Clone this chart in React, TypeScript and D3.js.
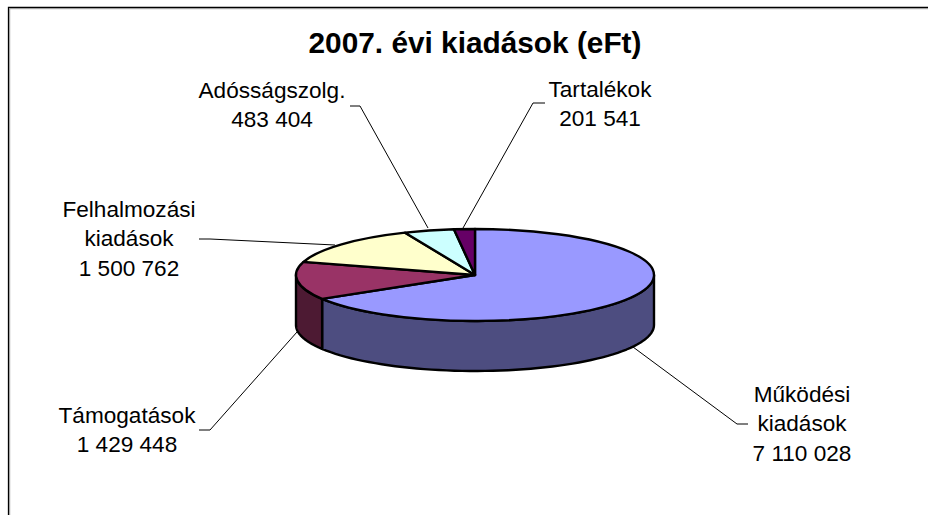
import React from "react";
import * as d3 from "d3";

const title = "2007. évi kiadások (eFt)";
const categories = [["Működési", "kiadások"], ["Támogatások"], ["Felhalmozási", "kiadások"], ["Adósságszolg."], ["Tartalékok"]];
const values = [7110028, 1429448, 1500762, 483404, 201541];
const topColors = ["#9999ff", "#993366", "#ffffcc", "#ccffff", "#660066"];
const sideColors = ["#4d4d80", "#4d1a33", "#80806a", "#6a8080", "#330033"];

// label centre + baseline of first line, and the leader polyline for each slice
const labelPos = [
  { x: 802, y: 402 },
  { x: 127, y: 423 },
  { x: 129, y: 217 },
  { x: 272, y: 98 },
  { x: 600, y: 97 },
];
const leaders: [number, number][][] = [
  [[748, 424], [737, 424], [633, 347]],
  [[199, 430], [210, 430], [297, 332]],
  [[199, 239], [210, 239], [335, 245]],
  [[350, 106], [360, 106], [428, 228]],
  [[545, 103], [533, 103], [463, 228]],
];

const width = 928;
const height = 515;
const cx = 475;
const cy = 275;
const rx = 179;
const ry = 46;
const depth = 50;
const fmt = d3.formatLocale({ decimal: ",", thousands: " ", grouping: [3], currency: ["", ""] }).format(",d");

export default function App() {
  const slices = d3.pie<number>().sort(null)(values);
  const arc = d3.arc<d3.PieArcDatum<number>>().innerRadius(0).outerRadius(100);
  const line = d3.line();

  // outer wall of a slice, only the part that faces the viewer
  const wall = (a0: number, a1: number) => {
    const s = Math.max(a0, Math.PI / 2);
    const e = Math.min(a1, (3 * Math.PI) / 2);
    if (e <= s) return null;
    const px = (t: number) => cx + rx * Math.sin(t);
    const py = (t: number) => cy - ry * Math.cos(t);
    const p = d3.path();
    p.moveTo(px(s), py(s));
    p.lineTo(px(s), py(s) + depth);
    const n = 60;
    for (let i = 1; i <= n; i++) {
      const t = s + ((e - s) * i) / n;
      p.lineTo(px(t), py(t) + depth);
    }
    p.lineTo(px(e), py(e));
    for (let i = n - 1; i >= 0; i--) {
      const t = s + ((e - s) * i) / n;
      p.lineTo(px(t), py(t));
    }
    p.closePath();
    return p.toString();
  };

  return (
    <svg
      width={width}
      height={height}
      style={{ position: "absolute", left: 0, top: 0, display: "block" }}
      fontFamily="'Liberation Sans', Arial, sans-serif"
    >
      <rect width={width} height={height} fill="#fff" />
      <path d={`M8.5,${height}V7.5H${width}`} fill="none" stroke="#000" strokeWidth={1.3} />
      <path d={`M9.7,${height}V8.7H${width}`} fill="none" stroke="#999" strokeWidth={1} />

      <text x={475} y={53} textAnchor="middle" fontSize={29.8} fontWeight="bold" fill="#000">
        {title}
      </text>

      {leaders.map((l, i) => (
        <path key={i} d={line(l) as string} fill="none" stroke="#000" strokeWidth={1} />
      ))}

      {slices.map((s, i) => {
        const d = wall(s.startAngle, s.endAngle);
        return d ? <path key={i} d={d} fill={sideColors[i]} stroke="#000" strokeWidth={2.4} strokeLinejoin="round" /> : null;
      })}

      <g transform={`translate(${cx},${cy}) scale(${rx / 100},${ry / 100})`}>
        {slices.map((s, i) => (
          <path
            key={i}
            d={arc(s) as string}
            fill={topColors[i]}
            stroke="#000"
            strokeWidth={2.4}
            strokeLinejoin="round"
            vectorEffect="non-scaling-stroke"
          />
        ))}
      </g>

      {categories.map((lines, i) => (
        <text key={i} x={labelPos[i].x} y={labelPos[i].y} textAnchor="middle" fontSize={22.6} fill="#000">
          {[...lines, fmt(values[i])].map((t, j) => (
            <tspan key={j} x={labelPos[i].x} dy={j === 0 ? 0 : 29.3}>
              {t}
            </tspan>
          ))}
        </text>
      ))}
    </svg>
  );
}
